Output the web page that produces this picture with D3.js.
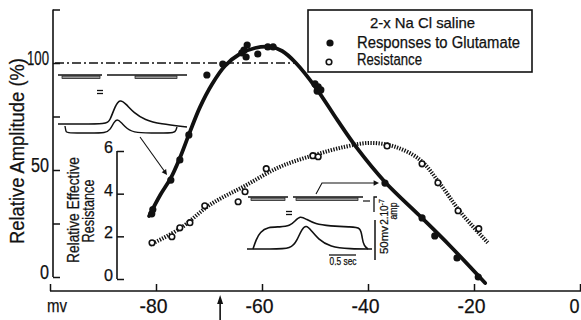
<!DOCTYPE html>
<html>
<head>
<meta charset="utf-8">
<script src="https://cdn.jsdelivr.net/npm/d3@7"></script>
<style>
  html, body { margin: 0; padding: 0; background: #fff; }
  svg { display: block; }
  text { font-family: "Liberation Sans", Arial, sans-serif; fill: #111; stroke: #111; stroke-width: 0.25px; }
</style>
</head>
<body>
<svg id="chart" width="581" height="320"></svg>
<script>
// Glutamate responses (filled dots): membrane potential (mV) and relative amplitude (%)
const glutMv  = [-80.8, -80.6, -77.2, -75.5, -73.8, -70.4, -67.4, -63.8, -63.4, -63.0, -62.8, -60.8, -58.9, -57.9, -50.0, -49.6, -49.4, -48.9, -36.8, -29.8, -27.4, -23.2, -19.2];
const glutAmp = [29.5, 31.5, 45.3, 54.7, 66.4, 94.4, 99.5, 104.7, 106.0, 102.8, 108.4, 104.2, 107.5, 107.5, 90.2, 86.9, 88.8, 87.4, 43.9, 27.6, 19.2, 8.9, 0.0];

// Smooth curve drawn through the glutamate responses
const glutFitMv  = [-81.3, -79.2, -77.2, -75.5, -73.6, -71.7, -69.4, -67.0, -64.2, -61.3, -58.5, -56.2, -53.6, -49.8, -45.8, -42.1, -36.8, -30.2, -24.5, -17.9];
const glutFitAmp = [28.5, 38.3, 46.3, 55.6, 67.8, 79.4, 90.2, 98.6, 104.2, 107.0, 107.5, 105.6, 100.0, 88.3, 73.4, 60.3, 44.4, 28.5, 14.5, -2.8];

// Relative effective resistance (open circles)
const resMv  = [-80.75, -77.0, -75.5, -73.6, -70.8, -64.5, -63.2, -59.2, -50.4, -49.4, -36.4, -29.8, -26.8, -23.0, -19.1];
const resVal = [1.70, 1.98, 2.40, 2.64, 3.43, 3.62, 4.09, 5.17, 5.78, 5.73, 6.24, 5.40, 4.51, 3.20, 2.36];

// Smooth curve drawn through the resistance values
const resFitMv  = [-81.1, -75.5, -69.8, -63.2, -56.6, -50.0, -44.3, -39.6, -34.9, -30.2, -26.4, -22.6, -17.4];
const resFitVal = [1.61, 2.36, 3.48, 4.37, 5.26, 5.82, 6.20, 6.38, 6.20, 5.59, 4.46, 3.15, 1.70];

// Axis ticks
const xTicks   = [-100, -80, -60, -40, -20, 0];
const xLabels  = ["", "-80", "-60", "-40", "-20", "0"];
const ampTicks = [0, 25, 50, 75, 100, 125];
const ampLabels = ["0", "", "50", "", "100", ""];
const resTicks = [0, 2, 4, 6];
const referenceLevel = 100;      // dash-dot reference line (%)
const referenceEnd = -53.6;      // mV where the reference line stops
const restingPotential = -67.9;  // arrow under the x axis (mV)

const svg = d3.select("#chart");
const ink = "#111";

const x = d3.scaleLinear().domain([-100, 0]).range([50, 580]);
const yAmp = d3.scaleLinear().domain([0, 125]).range([277, 9.5]);
const yRes = d3.scaleLinear().domain([0, 6]).range([279, 151]);

// Squeeze a text to a given width (the lettering is condensed)
function fit(sel, w) {
  sel.attr("textLength", w).attr("lengthAdjust", "spacingAndGlyphs");
  return sel;
}

// ---- Axes ----
const xAxis = d3.axisBottom(x).tickValues(xTicks).tickSize(-7).tickPadding(7)
  .tickFormat((d, i) => xLabels[i]);
const gx = svg.append("g").attr("transform", "translate(0,291)").call(xAxis);
gx.select(".domain").attr("d", "M50,0H581").attr("stroke", ink).attr("stroke-width", 1.6);
gx.selectAll(".tick line").attr("stroke", ink).attr("stroke-width", 1.5);
gx.selectAll(".tick text").attr("font-size", 21).attr("dx", -3)
  .attr("font-family", "Liberation Sans, Arial, sans-serif").attr("fill", ink)
  .each(function(d) { fit(d3.select(this), d === 0 ? 10 : 28); });
// the last label sits against the right edge
gx.selectAll(".tick").filter(d => d === 0).select("text").attr("text-anchor", "end").attr("x", -1).attr("dx", 0);

const ampAxis = d3.axisLeft(yAmp).tickValues(ampTicks).tickSize(-7).tickPadding(4)
  .tickFormat((d, i) => ampLabels[i]);
const gy = svg.append("g").attr("transform", "translate(53,0)").call(ampAxis);
gy.select(".domain").attr("d", `M0,${yAmp(0)}V${yAmp(125)}`).attr("stroke", ink).attr("stroke-width", 1.6);
gy.selectAll(".tick line").attr("stroke", ink).attr("stroke-width", 1.5);
gy.selectAll(".tick text").attr("font-size", 20).attr("dy", "0.05em")
  .attr("font-family", "Liberation Sans, Arial, sans-serif").attr("fill", ink)
  .each(function(d, i) {
    const s = ampLabels[i];
    if (s.length) fit(d3.select(this), s.length === 3 ? 22 : s.length === 2 ? 18 : 9);
  });

const resAxis = d3.axisLeft(yRes).tickValues(resTicks).tickSize(-7).tickPadding(4)
  .tickFormat(d3.format("d"));
const gr = svg.append("g").attr("transform", "translate(117,0)").call(resAxis);
gr.select(".domain").attr("d", `M0,${yRes(0)}V${yRes(6)}`).attr("stroke", ink).attr("stroke-width", 1.6);
gr.selectAll(".tick line").attr("stroke", ink).attr("stroke-width", 1.5);
gr.selectAll(".tick text").attr("font-size", 16).attr("dy", "0.1em")
  .attr("font-family", "Liberation Sans, Arial, sans-serif").attr("fill", ink)
  .each(function() { fit(d3.select(this), 9); });

// Axis titles
fit(svg.append("text").attr("transform", "translate(24,151) rotate(-90)")
  .attr("text-anchor", "middle").attr("font-size", 20).text("Relative Amplitude (%)"), 186);
fit(svg.append("text").attr("transform", "translate(79,210) rotate(-90)")
  .attr("text-anchor", "middle").attr("font-size", 16).text("Relative  Effective"), 106);
fit(svg.append("text").attr("transform", "translate(94,211) rotate(-90)")
  .attr("text-anchor", "middle").attr("font-size", 16).text("Resistance"), 63);
fit(svg.append("text").attr("x", 47).attr("y", 312).attr("font-size", 19).text("mv"), 20);

// Arrow at the resting potential
const ax = x(restingPotential);
svg.append("line").attr("x1", ax).attr("x2", ax).attr("y1", 320).attr("y2", 300)
  .attr("stroke", ink).attr("stroke-width", 1.6);
svg.append("path").attr("d", `M${ax},295L${ax - 3},304L${ax + 3},304Z`).attr("fill", ink);

// ---- Reference line at 100 % ----
svg.append("line")
  .attr("x1", 55).attr("x2", x(referenceEnd))
  .attr("y1", yAmp(referenceLevel)).attr("y2", yAmp(referenceLevel))
  .attr("stroke", ink).attr("stroke-width", 1.3).attr("stroke-dasharray", "9,3,2,3");

// ---- Oscilloscope traces (illustrations) ----
function trace(g, pts, w) {
  g.append("path").attr("d", d3.line().curve(d3.curveBasis)(pts))
    .attr("fill", "none").attr("stroke", ink).attr("stroke-width", w || 1.6);
}
function currentBar(g, x0, x1, gx0, gx1, y) {
  g.append("line").attr("x1", x0).attr("x2", x1).attr("y1", y).attr("y2", y)
    .attr("stroke", ink).attr("stroke-width", 1.4);
  g.append("rect").attr("x", gx0).attr("y", y + 1).attr("width", gx1 - gx0).attr("height", 2.6)
    .attr("fill", "#999").attr("stroke", ink).attr("stroke-width", 0.7);
}
function equals(g, cx, cy) {
  g.append("line").attr("x1", cx - 3).attr("x2", cx + 3).attr("y1", cy - 1.5).attr("y2", cy - 1.5).attr("stroke", ink).attr("stroke-width", 1.3);
  g.append("line").attr("x1", cx - 3).attr("x2", cx + 3).attr("y1", cy + 1.5).attr("y2", cy + 1.5).attr("stroke", ink).attr("stroke-width", 1.3);
}
function arrowHead(g, tipX, tipY, angle) {
  const s = 6;
  const a1 = angle + Math.PI * 0.85, a2 = angle - Math.PI * 0.85;
  g.append("path").attr("d",
    `M${tipX},${tipY}L${tipX + s * Math.cos(a1)},${tipY + s * Math.sin(a1)}L${tipX + s * Math.cos(a2)},${tipY + s * Math.sin(a2)}Z`)
    .attr("fill", ink);
}

// Upper-left trace set (hyperpolarised cell)
const osc1 = svg.append("g");
currentBar(osc1, 58, 102, 62, 100, 75);
currentBar(osc1, 107, 187, 135, 177, 75);
equals(osc1, 100, 92);
trace(osc1, [[58,124],[80,124],[106,124],[110,121],[115,106],[120,99],[126,104],[134,113],[145,120],[160,124],[187,127]]);
trace(osc1, [[65,126],[66,132],[67,133],[90,133],[106,133],[110,130],[114,122],[117,119],[121,122],[127,129],[135,133],[160,133],[175,133],[176,130],[177,127]], 1.4);
osc1.append("line").attr("x1", 140).attr("y1", 137).attr("x2", 165).attr("y2", 172)
  .attr("stroke", ink).attr("stroke-width", 1.1);
arrowHead(osc1, 167, 175, Math.atan2(35, 25));

// Lower-right trace set (depolarised cell)
const osc2 = svg.append("g");
currentBar(osc2, 248, 288, 251, 285, 197);
currentBar(osc2, 293, 363, 296, 358, 197);
osc2.append("line").attr("x1", 363).attr("x2", 370).attr("y1", 201).attr("y2", 201).attr("stroke", ink).attr("stroke-width", 1.2);
equals(osc2, 289, 213);
trace(osc2, [[253,249],[256,240],[260,232],[268,227],[280,227],[290,226],[295,221],[300,216],[306,219],[315,224],[330,226],[350,227],[361,227],[362,238],[364,246],[368,249]]);
trace(osc2, [[247,249],[270,249],[292,249],[297,240],[302,229],[306,225],[311,230],[318,239],[330,247],[350,249],[372,249]]);
// Arrow from the lower traces to their point on the curve
osc2.append("path").attr("d", "M316,194L322,183L374,183").attr("fill", "none").attr("stroke", ink).attr("stroke-width", 1.1);
arrowHead(osc2, 379, 183, 0);
// Scale bars
osc2.append("path").attr("d", "M377,197H374V212").attr("fill", "none").attr("stroke", ink).attr("stroke-width", 1.3);
osc2.append("line").attr("x1", 375).attr("x2", 375).attr("y1", 220).attr("y2", 260).attr("stroke", ink).attr("stroke-width", 1.5);
osc2.append("line").attr("x1", 329).attr("x2", 356).attr("y1", 255).attr("y2", 255).attr("stroke", ink).attr("stroke-width", 1.3);
fit(osc2.append("text").attr("x", 343).attr("y", 265).attr("text-anchor", "middle").attr("font-size", 10).attr("stroke-width", 0).text("0.5 sec"), 27);
fit(osc2.append("text").attr("transform", "translate(388,240) rotate(-90)").attr("text-anchor", "middle").attr("font-size", 10).attr("stroke-width", 0).text("50mv"), 28);
const amp = osc2.append("text").attr("transform", "translate(388,212) rotate(-90)").attr("text-anchor", "middle").attr("font-size", 10).attr("stroke-width", 0);
amp.append("tspan").text("2.10");
amp.append("tspan").attr("dy", -4).attr("font-size", 7).text("-7");
fit(osc2.append("text").attr("transform", "translate(397,211) rotate(-90)").attr("text-anchor", "middle").attr("font-size", 10).attr("stroke-width", 0).text("amp"), 17);

// ---- Fitted curves ----
const lineAmp = d3.line().x(i => x(glutFitMv[i])).y(i => yAmp(glutFitAmp[i])).curve(d3.curveCatmullRom.alpha(0.5));
svg.append("path").attr("d", lineAmp(d3.range(glutFitMv.length)))
  .attr("fill", "none").attr("stroke", ink).attr("stroke-width", 3.8).attr("stroke-linecap", "round");

const lineRes = d3.line().x(i => x(resFitMv[i])).y(i => yRes(resFitVal[i])).curve(d3.curveCatmullRom.alpha(0.5));
svg.append("path").attr("d", lineRes(d3.range(resFitMv.length)))
  .attr("fill", "none").attr("stroke", ink).attr("stroke-width", 4).attr("stroke-dasharray", "1.3,1.4");

// ---- Data points ----
svg.append("g").selectAll("circle").data(d3.range(glutMv.length)).join("circle")
  .attr("cx", i => x(glutMv[i])).attr("cy", i => yAmp(glutAmp[i])).attr("r", 3.6).attr("fill", ink);

svg.append("g").selectAll("circle").data(d3.range(resMv.length)).join("circle")
  .attr("cx", i => x(resMv[i])).attr("cy", i => yRes(resVal[i])).attr("r", 2.8)
  .attr("fill", "#fff").attr("stroke", ink).attr("stroke-width", 1.6);

// ---- Legend ----
const lg = svg.append("g");
lg.append("rect").attr("x", 308).attr("y", 10).attr("width", 224).attr("height", 62)
  .attr("fill", "#fff").attr("stroke", ink).attr("stroke-width", 1.6);
fit(lg.append("text").attr("x", 370).attr("y", 28).attr("font-size", 15).text("2-x Na Cl   saline"), 105);
lg.append("circle").attr("cx", 330).attr("cy", 43).attr("r", 3.6).attr("fill", ink);
fit(lg.append("text").attr("x", 357).attr("y", 48).attr("font-size", 16).text("Responses   to   Glutamate"), 163);
lg.append("circle").attr("cx", 329).attr("cy", 62).attr("r", 2.8).attr("fill", "#fff").attr("stroke", ink).attr("stroke-width", 1.6);
fit(lg.append("text").attr("x", 357).attr("y", 65).attr("font-size", 16).text("Resistance"), 65);
</script>
</body>
</html>
